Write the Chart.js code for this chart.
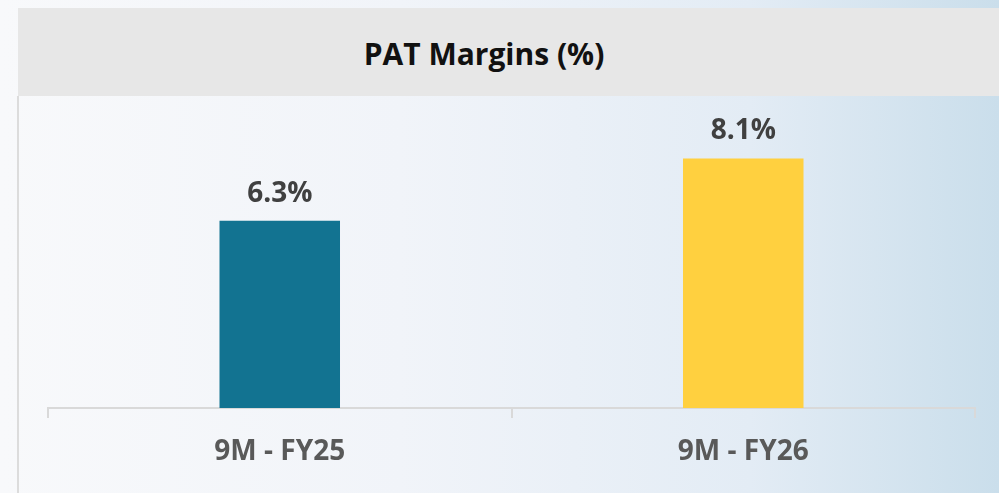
<!DOCTYPE html>
<html>
<head>
<meta charset="utf-8">
<script src="https://cdn.jsdelivr.net/npm/chart.js@4"></script>
<style>
  html, body { margin: 0; padding: 0; }
  body {
    width: 999px; height: 493px; overflow: hidden; position: relative;
    background: linear-gradient(90deg, #f8f9fb 0%, #f1f4f9 40%, #e3ecf5 75%, #cadeeb 100%);
    font-family: "Open Sans", sans-serif;
  }
  #head {
    position: absolute; left: 18px; top: 8px; width: 981px; height: 88px;
    background: #e7e7e7;
  }
  #title {
    position: absolute; left: 0; top: 10px; width: 968px; height: 88px;
    line-height: 88px; text-align: center;
    font-weight: bold; font-size: 30px; color: #111;
  }
  #edge {
    position: absolute; left: 17px; top: 96px; width: 2px; height: 397px;
    background: #dcdcdc;
  }
  #wrap { position: absolute; left: 0; top: 96px; width: 999px; height: 397px; }
</style>
</head>
<body>
<div id="head"></div>
<div id="title">PAT Margins (%)</div>
<div id="edge"></div>
<div id="wrap"><canvas id="chart"></canvas></div>
<script>
var categories = ['9M - FY25', '9M - FY26']
var margins = [6.3, 8.1]
var bar_colors = ['#127391', '#ffd03f']

// draws the % value above each bar
var value_labels = {
  id: 'value_labels',
  afterDatasetsDraw: function(chart) {
    var ctx = chart.ctx
    var meta = chart.getDatasetMeta(0)
    ctx.save()
    ctx.font = 'bold 28px "Open Sans"'
    ctx.fillStyle = '#404040'
    ctx.textAlign = 'center'
    ctx.textBaseline = 'bottom'
    meta.data.forEach(function(bar, i) {
      ctx.fillText(margins[i].toFixed(1) + '%', bar.x, bar.y - 13)
    })
    ctx.restore()
  }
}

var ctx = document.getElementById('chart')
var chart = new Chart(ctx, {
  type: 'bar',
  data: {
    labels: categories,
    datasets: [{
      data: margins,
      backgroundColor: bar_colors,
      borderWidth: 0,
      barPercentage: 0.52,
      categoryPercentage: 0.5
    }]
  },
  options: {
    responsive: true,
    maintainAspectRatio: false,
    animation: false,
    layout: { padding: { left: 48, right: 24, top: 0, bottom: 0 } },
    plugins: {
      legend: { display: false },
      tooltip: { enabled: false }
    },
    scales: {
      x: {
        grid: {
          drawOnChartArea: false,
          color: '#d9d9d9',
          lineWidth: 2,
          tickLength: 10
        },
        border: { color: '#d9d9d9', width: 2 },
        ticks: {
          color: '#595959',
          padding: 17,
          font: { family: 'Open Sans', size: 28, weight: 'bold' }
        },
        afterFit: function(scale) { scale.height = 85 }
      },
      y: {
        display: false,
        min: 0.9,
        max: 9.9
      }
    }
  },
  plugins: [value_labels]
})
</script>
</body>
</html>
